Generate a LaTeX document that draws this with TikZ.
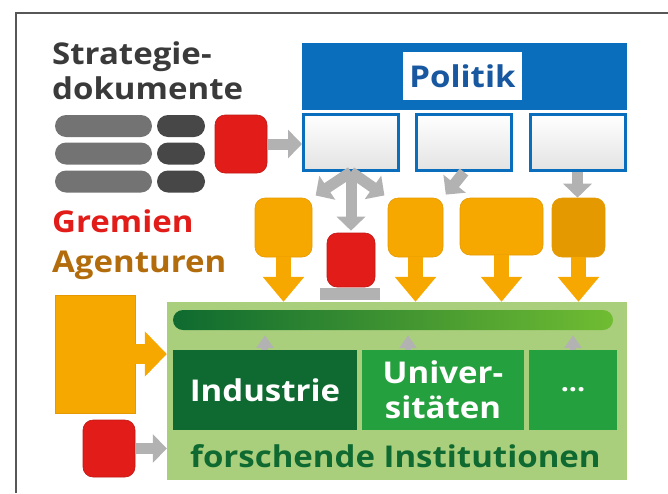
\documentclass[tikz,border=0pt]{standalone}
\usepackage{fontspec}
\setmainfont{Open Sans}[FakeStretch=1.1]
\usetikzlibrary{arrows.meta,positioning}
\definecolor{polblue}{RGB}{10,110,188}
\definecolor{poltext}{RGB}{24,88,160}
\definecolor{gremred}{RGB}{226,28,24}
\definecolor{agorange}{RGB}{246,168,0}
\definecolor{agdark}{RGB}{229,153,0}
\definecolor{agtext}{RGB}{178,108,12}
\definecolor{fieldgreen}{RGB}{170,207,124}
\definecolor{darkgreen}{RGB}{14,106,48}
\definecolor{midgreen}{RGB}{36,160,62}
\definecolor{lightgreen}{RGB}{112,188,50}
\definecolor{docgray}{RGB}{58,58,58}
\definecolor{arrgray}{RGB}{178,178,178}

\begin{document}
\begin{tikzpicture}[x=1pt,y=-1pt,
  every node/.style={inner sep=0pt,font=\bfseries\fontsize{30}{35}\selectfont},
  docbar/.style={fill=#1,rounded corners=11pt,minimum height=22pt},
  gremium/.style={fill=gremred,draw=gremred!85!black,line width=0.6pt,rounded corners=10pt},
  agentur/.style={fill=agorange,draw=agdark,line width=0.6pt,rounded corners=10pt},
  ministry/.style={draw=polblue,line width=3pt,top color=white,bottom color=black!11,
              minimum width=95pt,minimum height=56pt},
  inst/.style={text=white,minimum height=80pt,align=center},
  grayarr/.style={draw=arrgray,line width=11pt,-{Triangle[width=28pt,length=14pt]}},
  orarr/.style={draw=agorange,line width=15pt,-{Triangle[width=40pt,length=25pt]}},
  uparr/.style={draw=arrgray,line width=6pt,shorten >=5pt,-{Triangle[width=17pt,length=13pt]}}
]
  \useasboundingbox (0,0) rectangle (668,493);
  \draw[docgray!85,line width=1.5pt] (16,493) -- (16,13) -- (668,13);

  % Strategiedokumente
  \node[text=docgray,align=left,anchor=north west] (strat) at (52,42) {Strategie-\\dokumente};
  \node[docbar=black!55,minimum width=97pt] (dl1) at (103.5,126) {};
  \node[docbar=black!55,minimum width=97pt] (dl2) at (103.5,153.5) {};
  \node[docbar=black!55,minimum width=97pt] (dl3) at (103.5,181.5) {};
  \node[docbar=black!72,minimum width=48pt] (dr1) at (181,126) {};
  \node[docbar=black!72,minimum width=48pt] (dr2) at (181,153.5) {};
  \node[docbar=black!72,minimum width=48pt] (dr3) at (181,181.5) {};
  \node[text=gremred,anchor=base west] (gremien) at (52,232) {Gremien};
  \node[text=agtext,anchor=base west] (agenturen) at (52,272) {Agenturen};

  % Politik
  \node[fill=polblue,minimum width=325pt,minimum height=67pt] (pol) at (464.5,76.5) {};
  \node[fill=white,text=poltext,minimum width=119pt,minimum height=48pt] (poltxt) at (462.5,76) {Politik};
  \node[ministry] (m1) at (351,142.5) {};
  \node[ministry] (m2) at (464,142.5) {};
  \node[ministry] (m3) at (577.5,142.5) {};
  \node[gremium,minimum width=52pt,minimum height=58pt] (g1) at (241,144) {};
  \draw[grayarr] (g1.east) -- (g1.east -| m1.west);

  % Gremien und Agenturen
  \node[agentur,minimum width=57pt,minimum height=59pt] (a1) at (283.5,227.5) {};
  \node[agentur,minimum width=55pt,minimum height=59pt] (a2) at (415.5,227.5) {};
  \node[agentur,minimum width=83pt,minimum height=57pt] (a3) at (501.5,226.5) {};
  \node[agentur,fill=agdark,minimum width=53pt,minimum height=59pt] (a4) at (578.5,227.5) {};
  \node[gremium,minimum width=48pt,minimum height=54pt] (r2) at (351,260) {};
  \node[fill=arrgray,minimum width=60pt,minimum height=12pt] (sockel) at (350,294) {};
  \draw[grayarr,shorten >=4pt] (m1.south) -- (a1.north east);
  \draw[grayarr,shorten >=2pt] (m1.south) -- (r2.north);
  \draw[grayarr,shorten >=4pt] (m1.south) -- (a2.north west);
  \draw[grayarr,shorten >=4pt] (m2.south) -- (a2.north east);
  \draw[grayarr] (m3.south) -- (m3.south |- a4.north);

  % forschende Institutionen
  \node[fill=fieldgreen,minimum width=460pt,minimum height=178pt] (feld) at (397,391) {};
  \node[left color=darkgreen,right color=lightgreen,rounded corners=10pt,
        minimum width=440pt,minimum height=20pt] (band) at (393,320) {};
  \node[inst,fill=darkgreen,minimum width=184pt] (ind) at (265,390) {Industrie};
  \node[inst,fill=midgreen,minimum width=162pt] (uni) at (443,390) {Univer-\\sitäten};
  \node[inst,fill=midgreen,minimum width=88pt,font=\bfseries\fontsize{26}{30}\selectfont] (etc) at (573,390) {...};
  \node[text=darkgreen,anchor=base] (forsch) at (395.5,467) {forschende Institutionen};
  \draw[uparr] (ind.north) -- (ind.north |- band.south);
  \draw[uparr] ([xshift=-35pt]uni.north) -- ([xshift=-35pt]uni.north |- band.south);
  \draw[uparr] (etc.north) -- (etc.north |- band.south);

  \draw[orarr] (a1.south) -- (a1.south |- feld.north);
  \draw[orarr] (a2.south) -- (a2.south |- feld.north);
  \draw[orarr] (a3.south) -- (a3.south |- feld.north);
  \draw[orarr] (a4.south) -- (a4.south |- feld.north);

  \node[fill=agorange,draw=agdark,line width=0.6pt,minimum width=80pt,minimum height=118pt] (ag0) at (95,354) {};
  \draw[orarr,line width=20pt,-{Triangle[width=44pt,length=22pt]}] (ag0.east) -- (ag0.east -| feld.west);
  \node[gremium,minimum width=52pt,minimum height=57pt] (r3) at (109,448.5) {};
  \draw[grayarr] (r3.east) -- (r3.east -| feld.west);
\end{tikzpicture}
\end{document}
